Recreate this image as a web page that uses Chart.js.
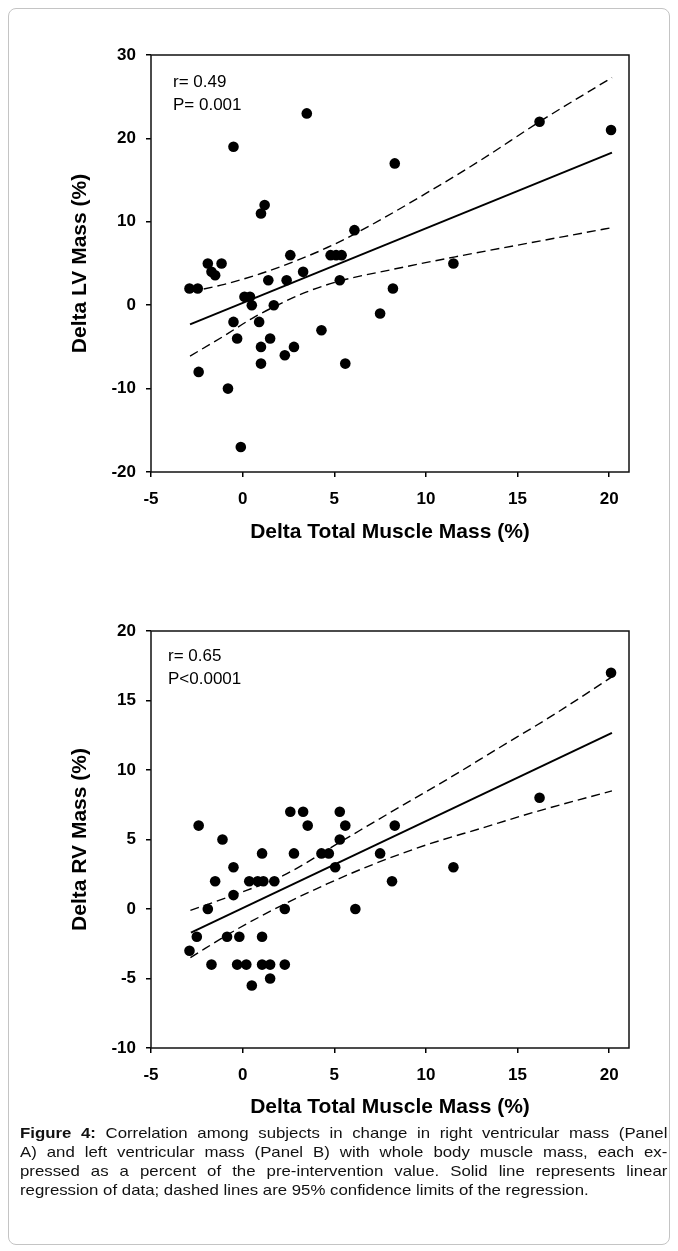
<!DOCTYPE html>
<html>
<head>
<meta charset="utf-8">
<script src="https://cdn.jsdelivr.net/npm/chart.js@4.4.1/dist/chart.umd.min.js"></script>
<style>
  body { margin: 0; background: #fff; width: 678px; height: 1251px; position: relative; overflow: hidden;
         font-family: "Liberation Sans", Arial, sans-serif; }
  .frame { position: absolute; left: 8px; top: 8px; width: 660px; height: 1235px;
           border: 1px solid #c4c4c4; border-radius: 8px; }
  canvas { position: absolute; left: 0; }
  /* caption in the source is drawn a bit wide, so stretch it sideways */
  #cap { position: absolute; left: 20px; top: 1123px; width: 578px; font-size: 15px; line-height: 19px; color: #111;
         transform: scaleX(1.12); transform-origin: 0 0; }
  #cap div { text-align: justify; text-align-last: justify; white-space: nowrap; }
  #cap div.last { text-align-last: left; }
</style>
</head>
<body>
<div class="frame"></div>
<canvas id="lv" width="678" height="560" style="top:0px"></canvas>
<canvas id="rv" width="678" height="560" style="top:575px"></canvas>
<div id="cap">
  <div><b>Figure 4:</b> Correlation among subjects in change in right ventricular mass (Panel</div>
  <div>A) and left ventricular mass (Panel B) with whole body muscle mass, each ex-</div>
  <div>pressed as a percent of the pre-intervention value. Solid line represents linear</div>
  <div class="last">regression of data; dashed lines are 95% confidence limits of the regression.</div>
</div>
<script>
// tick labels
const xTicks = [-5, 0, 5, 10, 15, 20];
const lvTicks = [-20, -10, 0, 10, 20, 30];
const rvTicks = [-10, -5, 0, 5, 10, 15, 20];

// panel A: delta LV mass vs delta total muscle mass
const lvX = [3.5, -0.5, 8.3, 1.2, 1.0, 6.1, 16.2, 20.1, -2.9, -2.45, -1.9, -1.15, -1.7, -1.5,
             2.6, 4.8, 5.1, 5.4, 1.4, 2.4, 3.3, 5.3, 0.1, 0.4, 0.5, 1.7, -0.5, 0.9, -0.3, 1.5,
             1.0, 2.8, 2.3, 4.3, 1.0, 5.6, -2.4, -0.8, -0.1, 7.5, 8.2, 11.5];
const lvY = [23, 19, 17, 12, 11, 9, 22, 21, 2, 2, 5, 5, 4, 3.6,
             6, 6, 6, 6, 3, 3, 4, 3, 1, 1, 0, 0, -2, -2, -4, -4,
             -5, -5, -6, -3, -7, -7, -8, -10, -17, -1, 2, 5];
const lvFitX = [-2.87, 20.15];
const lvFitY = [-2.3, 18.3];
const lvUpX = [-2.87, -1, 1, 3, 5, 7, 10, 13, 16.2, 20.15];
const lvUpY = [1.6, 2.5, 3.8, 5.4, 7.3, 9.6, 13.4, 17.4, 22.0, 27.3];
const lvLoX = [-2.87, -1.1, 0.5, 1.8, 3.5, 5.3, 8.2, 11.6, 15, 20.15];
const lvLoY = [-6.1, -3.8, -1.6, -0.1, 1.6, 2.9, 4.3, 5.8, 7.2, 9.3];

// panel B: delta RV mass vs delta total muscle mass
const rvX = [-2.4, 2.6, 3.3, 3.55, 5.3, 5.6, 8.3, 20.1, 16.2, -1.1, 1.06, 2.8, 4.3, 4.7,
             5.3, 5.05, 7.5, 8.15, 6.15, -0.5, -1.5, 0.36, 0.82, 1.13, 1.73, -0.5, -1.9, 2.3,
             -2.5, -2.9, -0.85, -0.18, 1.06, -1.7, -0.3, 0.2, 1.06, 1.5, 2.3, 1.5, 0.5, 11.5];
const rvY = [6, 7, 7, 6, 7, 6, 6, 17, 8, 5, 4, 4, 4, 4,
             5, 3, 4, 2, 0, 3, 2, 2, 2, 2, 2, 1, 0, 0,
             -2, -3, -2, -2, -2, -4, -4, -4, -4, -4, -4, -5, -5.5, 3];
const rvFitX = [-2.82, 20.15];
const rvFitY = [-1.7, 12.67];
const rvUpX = [-2.85, -0.5, 2.2, 5.3, 8, 11, 14, 17, 20.15];
const rvUpY = [-0.1, 1.0, 2.4, 4.8, 6.9, 9.2, 11.6, 14.0, 16.7];
const rvLoX = [-2.85, -0.5, 2.2, 4.6, 7.1, 10, 13, 16, 20.15];
const rvLoY = [-3.5, -1.6, 0.3, 1.8, 3.2, 4.6, 5.8, 7.0, 8.5];

const FONT = '"Liberation Sans", Arial, sans-serif';
const pts = (xs, ys) => xs.map((x, i) => ({ x: x, y: ys[i] }));

// frame round the plot area + r / P text
const framePlugin = {
    id: 'frame',
    afterDraw(chart, args, o) {
        const { ctx, chartArea: a } = chart;
        ctx.save();
        ctx.strokeStyle = '#111';
        ctx.lineWidth = 1.5;
        ctx.strokeRect(a.left, a.top, a.right - a.left, a.bottom - a.top);
        ctx.fillStyle = '#000';
        ctx.font = '17px ' + FONT;
        ctx.textBaseline = 'middle';
        o.lines.forEach((t, i) => ctx.fillText(t, a.left + o.dx, a.top + o.dy + i * 23));
        ctx.restore();
    }
};

function makeChart(id, d) {
    const axisGrid = { display: true, drawOnChartArea: false, drawTicks: true, tickLength: 5, color: '#000', lineWidth: 1.5 };
    return new Chart(document.getElementById(id), {
        type: 'scatter',
        data: {
            datasets: [
                { data: pts(d.x, d.y), pointRadius: 5.3, pointBackgroundColor: '#000', pointBorderWidth: 0 },
                { type: 'line', data: pts(d.fitX, d.fitY), borderColor: '#000', borderWidth: 2, pointRadius: 0 },
                { type: 'line', data: pts(d.upX, d.upY), borderColor: '#000', borderWidth: 1.4, borderDash: [9, 5],
                  pointRadius: 0, cubicInterpolationMode: 'monotone' },
                { type: 'line', data: pts(d.loX, d.loY), borderColor: '#000', borderWidth: 1.4, borderDash: [9, 5],
                  pointRadius: 0, cubicInterpolationMode: 'monotone' },
            ],
        },
        options: {
            responsive: false,
            animation: false,
            layout: { padding: { top: d.top, right: 49, left: 0, bottom: 0 } },
            plugins: {
                legend: { display: false },
                tooltip: { enabled: false },
                frame: { lines: d.text, dx: d.textDx, dy: d.textDy },
            },
            scales: {
                x: {
                    type: 'linear', min: -5, max: 21.08,
                    afterBuildTicks: s => { s.ticks = xTicks.map(v => ({ value: v })); },
                    afterFit: s => { s.height = 560 - d.top - 417; },
                    grid: axisGrid,
                    border: { display: false },
                    ticks: { color: '#000', padding: 12, font: { family: FONT, size: 17, weight: 'bold' } },
                    title: { display: true, text: 'Delta Total Muscle Mass (%)', color: '#000',
                             font: { family: FONT, size: 21, weight: 'bold' }, padding: { top: 0, bottom: 15 } },
                },
                y: {
                    type: 'linear', min: d.yTicks[0], max: d.yTicks[d.yTicks.length - 1],
                    afterBuildTicks: s => { s.ticks = d.yTicks.map(v => ({ value: v })); },
                    afterFit: s => { s.width = 151; },
                    grid: axisGrid,
                    border: { display: false },
                    ticks: { color: '#000', padding: 10, font: { family: FONT, size: 17, weight: 'bold' } },
                    title: { display: true, text: d.yTitle, color: '#000',
                             font: { family: FONT, size: 21, weight: 'bold' }, padding: { top: 68, bottom: 0 } },
                },
            },
        },
        plugins: [framePlugin],
    });
}

makeChart('lv', {
    x: lvX, y: lvY, fitX: lvFitX, fitY: lvFitY, upX: lvUpX, upY: lvUpY, loX: lvLoX, loY: lvLoY,
    yTicks: lvTicks, yTitle: 'Delta LV Mass (%)', top: 55,
    text: ['r= 0.49', 'P= 0.001'], textDx: 22, textDy: 27,
});
makeChart('rv', {
    x: rvX, y: rvY, fitX: rvFitX, fitY: rvFitY, upX: rvUpX, upY: rvUpY, loX: rvLoX, loY: rvLoY,
    yTicks: rvTicks, yTitle: 'Delta RV Mass (%)', top: 56,
    text: ['r= 0.65', 'P<0.0001'], textDx: 17, textDy: 25,
});
</script>
</body>
</html>
